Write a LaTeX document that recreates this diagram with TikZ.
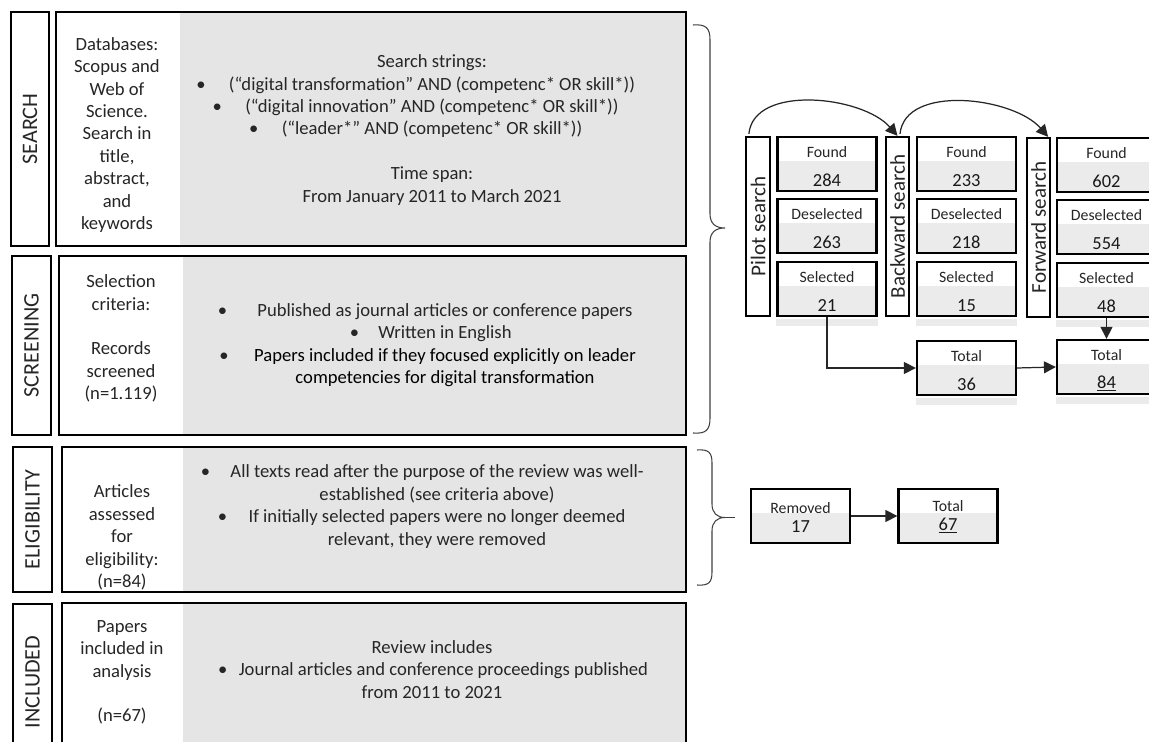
\documentclass[tikz,border=0pt]{standalone}
\usepackage{fontspec}
\setmainfont{Carlito}
\usetikzlibrary{arrows.meta,calc}
\newcommand{\bul}[1][13pt]{\llap{\textbullet\hspace{#1}}}
\tikzset{
  sz/.style 2 args={minimum width=#1*0.02cm, minimum height=#2*0.02cm},
  panel/.style={draw=black, line width=1.6pt, fill=white, inner sep=0pt,
    path picture={\fill[black!10] ([xshift=#1]path picture bounding box.south west) rectangle (path picture bounding box.north east);}},
  secbox/.style={draw=black, line width=1.6pt, fill=white, inner sep=0pt, rotate=90, font=\fontsize{12.6}{14}\selectfont, text=black!85},
  body/.style={align=center, inner sep=0pt, font=\fontsize{10.6}{12.75}\selectfont, text=black!85},
  cell/.style={draw=black, line width=1.3pt, fill=white, inner sep=0pt, sz={99}{54},
    path picture={\fill[black!8] (path picture bounding box.south west) rectangle ([yshift=17pt]path picture bounding box.south east);}},
  side/.style={draw=black, line width=1.3pt, fill=white, inner sep=0pt},
  sidetxt/.style={inner sep=0pt, rotate=90, font=\fontsize{12}{14}\selectfont, text=black!85},
  celllbl/.style={inner sep=0pt, font=\fontsize{9}{10}\selectfont, text=black!85},
  cellnum/.style={inner sep=0pt, font=\fontsize{10.5}{12}\selectfont, text=black!90},
  tip/.style={-{Triangle[length=6.8pt,width=6.8pt]}, line width=0.7pt, draw=black!85},
  brc/.style={line width=0.6pt, draw=black!75},
}
\begin{document}
\begin{tikzpicture}[x=0.02cm,y=-0.02cm]
\useasboundingbox (0,0) rectangle (1149,742);
\fill[white] (0,0) rectangle (1149,742);
\clip (0,0) rectangle (1149,742);

\node[secbox, sz={234}{38}] (search) at (30,129) {SEARCH};
\node[secbox, sz={179}{39}] (screening) at (31.5,345.5) {SCREENING};
\node[secbox, sz={145}{39}] (eligibility) at (32.5,519.5) {ELIGIBILITY};
\node[secbox, sz={156}{39}] (included) at (32.5,682) {INCLUDED};

\node[panel=70.3pt, sz={630}{234}] (srchbox) at (371,129) {};
\node[panel=70.3pt, sz={627}{179}] (scrbox) at (372.5,345.5) {};
\node[panel=68.6pt, sz={624}{145}] (elibox) at (374,519.5) {};
\node[panel=68.6pt, sz={624}{157}] (incbox) at (374,681.5) {};

\node[body] (srchL) at (117,135) {Databases:\\ Scopus and\\ Web of\\ Science.\\ Search in\\ title,\\ abstract,\\ and\\ keywords};
\node[body] (srchR) at (432,130) {Search strings:\\ \bul[13.3pt](“digital transformation” AND (competenc* OR skill*))\\ \bul[13.3pt](“digital innovation” AND (competenc* OR skill*))\\ \bul[13.3pt](“leader*” AND (competenc* OR skill*))\\[12.75pt] Time span:\\ From January 2011 to March 2021};

\node[body] (scrL) at (121,338.5) {Selection\\ criteria:\\[12.75pt] Records\\ screened\\ (n=1.119)};
\node[body] (scrR) at (445,345) {\bul[17.3pt]Published as journal articles or conference papers\\ \bul[11pt]Written in English\hspace*{6.8pt}\\ \bul[14.5pt]{\color{black}Papers included if they focused explicitly on leader}\\ {\color{black}competencies for digital transformation}};

\node[body] (eliL) at (122,537.5) {Articles\\ assessed\\ for\\ eligibility:\\ (n=84)};
\node[body] (eliR) at (437,506.5) {\bul[11.6pt]All texts read after the purpose of the review was well-\\ established (see criteria above)\\ \bul[12.2pt]If initially selected papers were no longer deemed\\ relevant, they were removed};

\node[body] (incL) at (122,672.5) {Papers\\ included in\\ analysis\\[12.75pt] (n=67)};
\node[body] (incR) at (432,669.5) {Review includes\\ \hspace*{13pt}\bul[6.5pt]Journal articles and conference proceedings published\\ from 2011 to 2021};

\draw[brc] (693,25) .. controls (706,24) and (710,28) .. (710,40) -- (710,214) .. controls (710,224) and (716,228) .. (725,228)
  .. controls (716,228) and (710,232) .. (710,242) -- (710,418) .. controls (710,430) and (706,434) .. (693,433);
\draw[brc] (697,450) .. controls (709,449) and (712,453) .. (712,463) -- (712,504) .. controls (712,513) and (717,517.5) .. (725,517.5)
  .. controls (717,517.5) and (712,522) .. (712,531) -- (712,572) .. controls (712,582) and (709,586) .. (697,585);
\coordinate (elitip) at (725,517.5);
\draw[brc] (elitip) -- +(10,0);

\node[side, sz={24}{179}] (pilot) at (758,226.5) {};
\node[sidetxt] (pilottxt) at (pilot) {Pilot search};
\node[side, sz={23}{179}] (bwd) at (897.5,226.5) {};
\node[sidetxt] (bwdtxt) at (bwd) {Backward search};
\node[side, sz={23}{179}] (fwd) at (1038.5,227.5) {};
\node[sidetxt] (fwdtxt) at (fwd) {Forward search};

\foreach \nm/\xx/\yy/\lb/\nb in {p1/827/164/Found/284, p2/827/226/Deselected/263, p3/827/289/Selected/21,
  b1/966.5/164/Found/233, b2/966.5/226/Deselected/218, b3/966.5/289/Selected/15,
  f1/1106.5/165/Found/602, f2/1106.5/227/Deselected/554, f3/1106.5/290/Selected/48,
  t36/966.5/368/Total/36, t84/1106.5/367/Total/\underline{84}} {
  \node[cell] (\nm) at (\xx,\yy) {};
  \node[celllbl] (\nm-l) at ([yshift=-9pt]\nm.north) {\lb};
  \node[cellnum] (\nm-n) at ([yshift=-25.5pt]\nm.north) {\nb};
}
\foreach \nm in {p3,b3,f3,t36,t84}
  \fill[black!8] ([yshift=-0.8pt]\nm.south west) rectangle ([yshift=-5pt]\nm.south east);

\node[cell] (rem) at (800.5,516) {};
\node[celllbl] (rem-l) at ([yshift=-11.3pt]rem.north) {Removed};
\node[cellnum] (rem-n) at ([yshift=-22.1pt]rem.north) {17};
\node[cell] (t67) at (948,516) {};
\node[celllbl] (t67-l) at ([yshift=-10.2pt]t67.north) {Total};
\node[cellnum] (t67-n) at ([yshift=-21.5pt]t67.north) {\underline{67}};

\draw[tip] ($(pilot.north west)+(4,-2)$) .. controls ($(pilot.north west)+(9,-52)$) and ($(bwd.north)+(-35,-40)$) .. (bwd.north);
\draw[tip] ($(bwd.north)+(2.5,-2)$) .. controls ($(bwd.north)+(7.5,-52)$) and ($(fwd.north east)+(-38,-40)$) .. ($(fwd.north east)+(-3,0)$);
\draw[tip] (p3.south) |- (t36.west);
\draw[tip] (t36.east) -- (t84.west);
\draw[tip] (f3.south) -- (t84.north);
\draw[tip] (rem.east) -- (t67.west);
\end{tikzpicture}
\end{document}
